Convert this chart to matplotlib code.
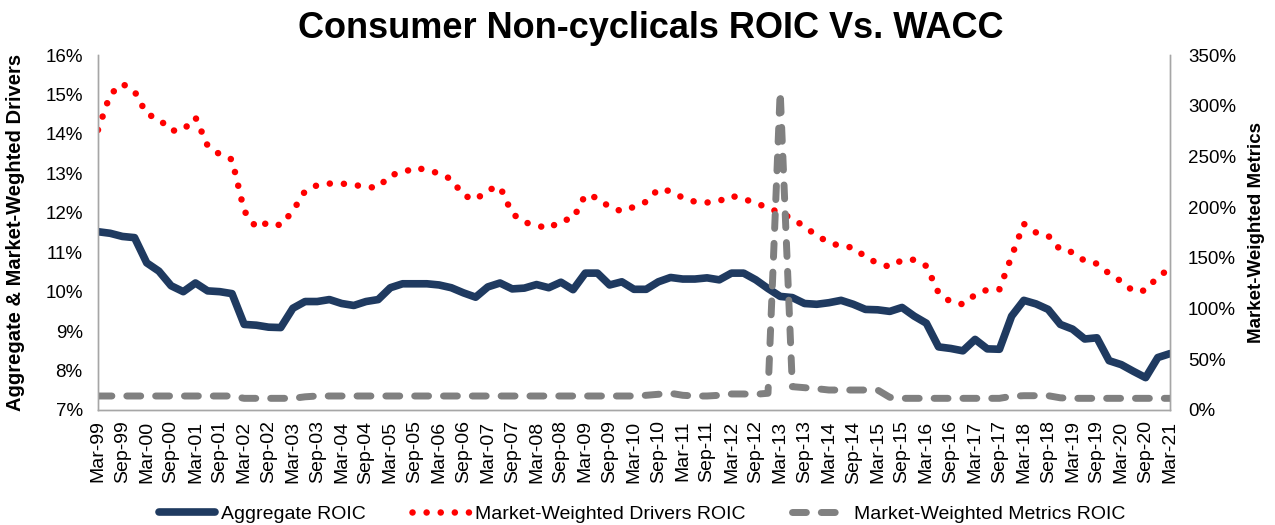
import matplotlib
matplotlib.use("Agg")
import matplotlib.pyplot as plt
import numpy as np

plt.rcParams["font.family"] = ["Liberation Sans", "DejaVu Sans"]

# ── Data (quarterly, Mar-99 .. Mar-21) ─────────────────────────────────
months = ["Mar", "Jun", "Sep", "Dec"]
quarters = [f"{m}-{y % 100:02d}" for y in range(1999, 2022) for m in months][:89]
tick_labels = quarters[::2]

# Aggregate ROIC (%), left axis
aggregate_roic = [
    11.52, 11.48, 11.40, 11.37, 10.73, 10.52, 10.15, 10.00, 10.22, 10.02, 10.00, 9.95,
    9.17, 9.15, 9.10, 9.09, 9.58, 9.75, 9.75, 9.80, 9.70, 9.65, 9.75, 9.80,
    10.10, 10.20, 10.20, 10.20, 10.17, 10.10, 9.97, 9.86, 10.12, 10.22, 10.07, 10.09,
    10.18, 10.10, 10.24, 10.05, 10.47, 10.47, 10.17, 10.25, 10.06, 10.06, 10.25, 10.36,
    10.32, 10.32, 10.35, 10.30, 10.47, 10.47, 10.30, 10.08, 9.88, 9.85, 9.70, 9.68,
    9.72, 9.78, 9.68, 9.55, 9.54, 9.50, 9.60, 9.38, 9.20, 8.60, 8.56, 8.50,
    8.79, 8.55, 8.54, 9.38, 9.78, 9.69, 9.55, 9.17, 9.05, 8.80, 8.83, 8.25,
    8.15, 7.98, 7.82, 8.33, 8.43,
]

# Market-Weighted Drivers ROIC (%), left axis
drivers_roic = [
    14.10, 15.00, 15.27, 15.08, 14.50, 14.38, 14.08, 14.10, 14.42, 13.70, 13.48, 13.35,
    12.05, 11.62, 11.76, 11.68, 12.05, 12.55, 12.70, 12.74, 12.74, 12.71, 12.65, 12.64,
    12.96, 13.01, 13.15, 13.08, 13.00, 12.85, 12.44, 12.33, 12.58, 12.66, 11.98, 11.76,
    11.68, 11.60, 11.80, 11.85, 12.45, 12.38, 12.14, 12.04, 12.15, 12.28, 12.60, 12.55,
    12.38, 12.28, 12.26, 12.30, 12.43, 12.35, 12.25, 12.12, 12.00, 11.85, 11.65, 11.42,
    11.25, 11.15, 11.12, 10.88, 10.72, 10.63, 10.80, 10.81, 10.65, 9.97, 9.74, 9.68,
    9.92, 10.05, 10.06, 10.90, 11.72, 11.50, 11.42, 11.06, 11.00, 10.78, 10.71, 10.46,
    10.26, 10.01, 10.03, 10.38, 10.58,
]

# Market-Weighted Metrics ROIC (%), right axis
metrics_roic = [
    13.8, 13.8, 13.8, 13.8, 13.8, 13.8, 13.8, 13.8, 13.8, 13.8, 13.8, 13.8,
    11.5, 11.5, 11.5, 11.5, 11.5, 13.0, 13.8, 13.8, 13.8, 13.8, 13.8, 13.8,
    13.8, 13.8, 13.8, 13.8, 13.8, 13.8, 13.8, 13.8, 13.8, 13.8, 13.8, 13.8,
    13.8, 13.8, 13.8, 13.8, 13.8, 13.8, 13.8, 13.8, 13.8, 14.5, 15.5, 16.5,
    14.5, 13.8, 13.8, 14.5, 15.8, 15.8, 15.5, 16.5, 314.0, 23.0, 22.0, 21.0,
    19.7, 19.7, 19.7, 19.7, 19.7, 12.5, 11.5, 11.5, 11.5, 11.5, 11.5, 11.5,
    11.5, 11.5, 11.5, 13.5, 14.1, 14.1, 14.1, 12.0, 11.5, 11.5, 11.5, 11.5,
    11.5, 11.5, 11.5, 11.5, 11.5,
]

left_ticks = list(range(7, 17))
right_ticks = list(range(0, 351, 50))

NAVY = "#1f3a60"
RED = "#ff0000"
GRAY = "#808080"
AXIS = "#a6a6a6"

x = np.arange(len(quarters))

fig = plt.figure(figsize=(12.75, 5.25), dpi=100)
ax = fig.add_axes([98 / 1275, 1 - 410 / 525, (1170 - 98) / 1275, 355 / 525])
ax2 = ax.twinx()

l1, = ax.plot(x, aggregate_roic, color=NAVY, lw=5.5, solid_capstyle="round",
              solid_joinstyle="round", label="Aggregate ROIC", zorder=3)
l2, = ax.plot(x, drivers_roic, color=RED, lw=4.7, linestyle=(0, (0.01, 2.15)),
              dash_capstyle="round", label="Market-Weighted Drivers ROIC", zorder=2)
l3, = ax2.plot(x, metrics_roic, color=GRAY, lw=5, linestyle=(0, (2, 2.15)),
               dash_capstyle="round", dash_joinstyle="round",
               label="Market-Weighted Metrics ROIC")

ax.set_xlim(0, len(quarters) - 1)
ax.set_ylim(7, 16)
ax2.set_ylim(0, 350)

ax.set_xticks(x[::2])
ax.set_xticklabels(tick_labels, rotation=90, fontsize=14)
ax.set_yticks(left_ticks)
ax.set_yticklabels([f"{v}%" for v in left_ticks], fontsize=13.5)
ax2.set_yticks(right_ticks)
ax2.set_yticklabels([f"{v}%" for v in right_ticks], fontsize=13.5)

ax.tick_params(axis="x", length=0, pad=7.5)
ax.tick_params(axis="y", length=0, pad=11)
ax2.tick_params(axis="y", length=0, pad=13)

for a in (ax, ax2):
    a.spines["top"].set_visible(False)
    for s in ("left", "right", "bottom"):
        a.spines[s].set_color(AXIS)
        a.spines[s].set_linewidth(1)

ax.set_ylabel("Aggregate & Market-Weghted Drivers", fontsize=14.5,
              fontweight="bold")
ax.yaxis.set_label_coords(-(98 - 25) / 1072, 0.5)
ax2.set_ylabel("Market-Weighted Metrics", fontsize=13.5, fontweight="bold",
               rotation=90)
ax2.yaxis.set_label_coords((1248 - 98) / 1072, 0.5)

fig.text(651 / 1275, 1 - 28 / 525, "Consumer Non-cyclicals ROIC Vs. WACC",
         ha="center", va="center", fontsize=26, fontweight="bold")

fig.legend(handles=[l1, l2, l3], loc="center", bbox_to_anchor=(642 / 1275, 1 - 514 / 525),
           ncol=3, frameon=False, fontsize=14, handlelength=2.9,
           handletextpad=0.3, columnspacing=2.4)

fig.savefig("out.png", dpi=100, facecolor="white")
